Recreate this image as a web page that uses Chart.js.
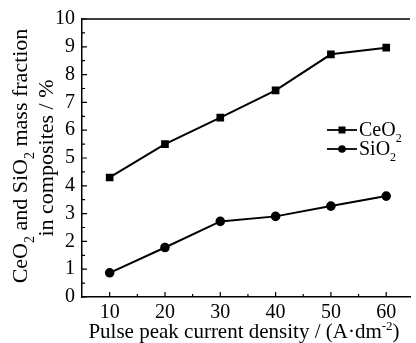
<!DOCTYPE html>
<html>
<head>
<meta charset="utf-8">
<script src="https://cdn.jsdelivr.net/npm/chart.js@4"></script>
<style>
  html, body { margin: 0; padding: 0; background: #fff; }
  #wrap { width: 416px; height: 343px; }
</style>
</head>
<body>
<div id="wrap"><canvas id="c" width="416" height="343"></canvas></div>
<script>
const currentDensity = [10, 20, 30, 40, 50, 60];
const ceo2Values = [4.3, 5.5, 6.45, 7.43, 8.73, 8.97];
const sio2Values = [0.87, 1.78, 2.72, 2.9, 3.27, 3.63];
const yTicks = [0, 1, 2, 3, 4, 5, 6, 7, 8, 9, 10];

const FONT = '"Liberation Serif", "Times New Roman", serif';

// draws text pieces: [text, 'n'|'sub'|'sup']
function drawRich(ctx, parts, x, y, size, align) {
    const small = Math.round(size * 0.62);
    let total = 0;
    parts.forEach(p => {
        ctx.font = (p[1] === 'n' ? size : small) + 'px ' + FONT;
        total += ctx.measureText(p[0]).width;
    });
    let cx = align === 'center' ? x - total / 2 : x;
    ctx.textAlign = 'left';
    ctx.textBaseline = 'alphabetic';
    parts.forEach(p => {
        ctx.font = (p[1] === 'n' ? size : small) + 'px ' + FONT;
        let dy = 0;
        if (p[1] === 'sub') dy = size * 0.3;
        if (p[1] === 'sup') dy = -size * 0.38;
        ctx.fillText(p[0], cx, y + dy);
        cx += ctx.measureText(p[0]).width;
    });
}

const decorations = {
    id: 'decorations',
    afterDraw(chart) {
        const ctx = chart.ctx;
        const area = chart.chartArea;
        const xs = chart.scales.x, ys = chart.scales.y;
        ctx.save();
        ctx.strokeStyle = '#000';
        ctx.fillStyle = '#000';
        ctx.lineWidth = 1.5;

        // top frame line
        ctx.beginPath();
        ctx.moveTo(area.left, area.top);
        ctx.lineTo(area.right, area.top);
        ctx.stroke();

        // inward ticks
        ctx.lineWidth = 1.2;
        ctx.beginPath();
        for (let v = 0; v <= 10; v += 0.5) {
            const py = ys.getPixelForValue(v);
            const len = Number.isInteger(v) ? 5 : 3;
            ctx.moveTo(area.left, py);
            ctx.lineTo(area.left + len, py);
        }
        for (let v = 10; v <= 60; v += 5) {
            const px = xs.getPixelForValue(v);
            const len = v % 10 === 0 ? 5 : 3;
            ctx.moveTo(px, area.bottom);
            ctx.lineTo(px, area.bottom - len);
        }
        ctx.stroke();

        // legend
        const items = [
            { parts: [['CeO', 'n'], ['2', 'sub']], style: 'rect', y: 130 },
            { parts: [['SiO', 'n'], ['2', 'sub']], style: 'circle', y: 149 }
        ];
        items.forEach(it => {
            ctx.lineWidth = 1.8;
            ctx.beginPath();
            ctx.moveTo(327, it.y);
            ctx.lineTo(357, it.y);
            ctx.stroke();
            if (it.style === 'rect') {
                ctx.fillRect(338.5, it.y - 3.5, 7, 7);
            } else {
                ctx.beginPath();
                ctx.arc(342, it.y, 3.8, 0, Math.PI * 2);
                ctx.fill();
            }
            drawRich(ctx, it.parts, 359, it.y + 6, 20, 'left');
        });

        // x title
        drawRich(ctx, [['Pulse peak current density / (A\u00b7dm', 'n'], ['-2', 'sup'], [')', 'n']],
            244, 338, 21, 'center');

        // y title (rotated, two lines)
        ctx.save();
        ctx.translate(27, 156);
        ctx.rotate(-Math.PI / 2);
        drawRich(ctx, [['CeO', 'n'], ['2', 'sub'], [' and SiO', 'n'], ['2', 'sub'], [' mass fraction', 'n']],
            0, 0, 22, 'center');
        ctx.restore();
        ctx.save();
        ctx.translate(53, 158);
        ctx.rotate(-Math.PI / 2);
        drawRich(ctx, [['in composites / %', 'n']], 0, 0, 22, 'center');
        ctx.restore();

        ctx.restore();
    }
};

new Chart(document.getElementById('c'), {
    type: 'line',
    data: {
        datasets: [
            {
                label: 'CeO2',
                data: currentDensity.map((x, i) => ({ x, y: ceo2Values[i] })),
                borderColor: '#000',
                backgroundColor: '#000',
                borderWidth: 2,
                pointStyle: 'rect',
                pointRadius: 4,
                tension: 0
            },
            {
                label: 'SiO2',
                data: currentDensity.map((x, i) => ({ x, y: sio2Values[i] })),
                borderColor: '#000',
                backgroundColor: '#000',
                borderWidth: 2,
                pointStyle: 'circle',
                pointRadius: 3.8,
                tension: 0
            }
        ]
    },
    options: {
        responsive: false,
        animation: false,
        layout: { padding: { top: 18, left: 0, right: 0, bottom: 0 } },
        plugins: { legend: { display: false }, tooltip: { enabled: false } },
        scales: {
            x: {
                type: 'linear',
                min: 5,
                max: 64.3,
                afterBuildTicks: s => { s.ticks = currentDensity.map(v => ({ value: v })); },
                afterFit: s => { s.height = 46; },
                grid: { display: false, drawTicks: false },
                border: { display: true, color: '#000', width: 1.5 },
                ticks: { color: '#000', font: { family: FONT, size: 20 }, padding: 4, maxRotation: 0 }
            },
            y: {
                min: 0,
                max: 10,
                afterBuildTicks: s => { s.ticks = yTicks.map(v => ({ value: v })); },
                afterFit: s => { s.width = 82; },
                grid: { display: false, drawTicks: false },
                border: { display: true, color: '#000', width: 1.5 },
                ticks: { color: '#000', font: { family: FONT, size: 20 }, padding: 7 }
            }
        }
    },
    plugins: [decorations]
});
</script>
</body>
</html>
